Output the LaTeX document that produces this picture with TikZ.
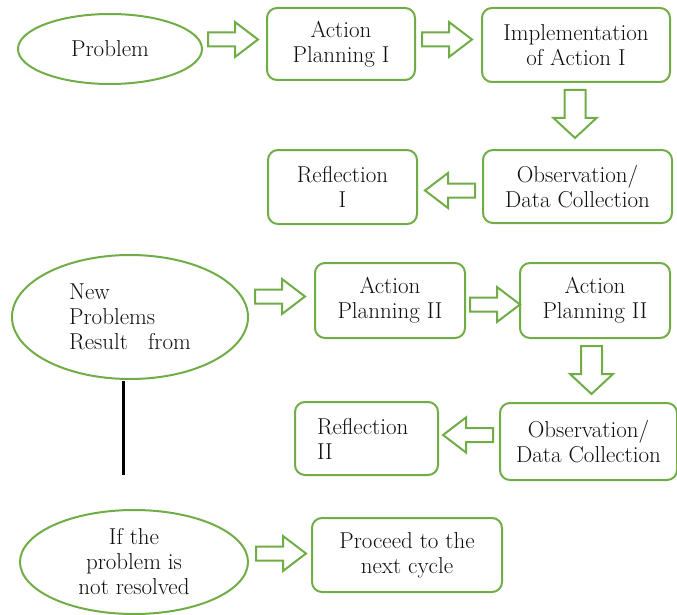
\documentclass[tikz,border=0pt]{standalone}
\usetikzlibrary{shapes.geometric}

\definecolor{leaf}{RGB}{112,173,71}
\definecolor{ink}{RGB}{15,15,15}

\tikzset{every picture/.style={line width=2pt}}
\tikzset{
  box/.style={draw=leaf, rectangle, rounded corners=10pt, align=center, inner sep=0pt,
    text=ink, font=\fontsize{23}{25}\selectfont},
  oval/.style={draw=leaf, ellipse, align=center, inner sep=0pt,
    text=ink, font=\fontsize{23}{25}\selectfont},
  blk/.style={draw=leaf, fill=white, line join=miter},
  pics/harrow/.style={code={
    \draw[blk] (-25,-7) -- (2,-7) -- (2,-17.5) -- (25,0) -- (2,17.5) -- (2,7) -- (-25,7) -- cycle;}},
  pics/varrow/.style={code={
    \draw[blk] (-24,-10.5) -- (4,-10.5) -- (4,-21.5) -- (24,0) -- (4,21.5) -- (4,10.5) -- (-24,10.5) -- cycle;}},
}

\begin{document}
\begin{tikzpicture}[x=1pt,y=1pt,yscale=-1]
\useasboundingbox (0,0) rectangle (677,615);

% first cycle
\node[oval, minimum width=184pt, minimum height=70pt] (prob) at (110,49) {Problem};
\node[box, minimum width=148pt, minimum height=72pt] (ap1) at (341,44) {Action\\Planning I};
\node[box, minimum width=188pt, minimum height=74pt] (imp1) at (576,45) {Implementation\\of Action I};
\node[box, minimum width=189pt, minimum height=73pt] (obs1) at (577.5,186.5) {Observation/\\Data Collection};
\node[box, minimum width=149pt, minimum height=74pt] (ref1) at (342.5,187) {Reflection\\I};

\pic at (233,39.5) {harrow};
\pic at (447,39.5) {harrow};
\pic[rotate=-90] at (575,114) {varrow};
\pic[rotate=180] at (450,190.5) {harrow};

% second cycle
\node[oval, minimum width=236pt, minimum height=124pt, align=left] (newp) at (130,317)
  {New\\Problems\\Result\hspace{20pt}from};
\node[box, minimum width=150pt, minimum height=75pt] (ap2) at (390,300.5) {Action\\Planning II};
\node[box, minimum width=150pt, minimum height=75pt] (ap3) at (595,300.5) {Action\\Planning II};
\node[box, minimum width=177pt, minimum height=77pt] (obs2) at (588.5,441.5) {Observation/\\Data Collection};
\node[box, minimum width=143pt, minimum height=73pt, text width=99pt, align=left] (ref2) at (366.5,438.5) {Reflection\\II};

\pic at (280,296.5) {harrow};
\pic at (495,304.5) {harrow};
\pic[rotate=-90] at (591.5,370) {varrow};
\pic[rotate=180] at (468,435) {harrow};

% next cycle
\node[oval, minimum width=228pt, minimum height=104pt] (ifn) at (134,562) {If the\\problem is\\not resolved};
\node[box, minimum width=190pt, minimum height=74pt] (next) at (407,555) {Proceed to the\\next cycle};
\pic at (281,553.5) {harrow};

\coordinate (l1) at (123,381);
\coordinate (l2) at (123,475);
\draw[line width=3pt] (l1) -- (l2);

\end{tikzpicture}
\end{document}
